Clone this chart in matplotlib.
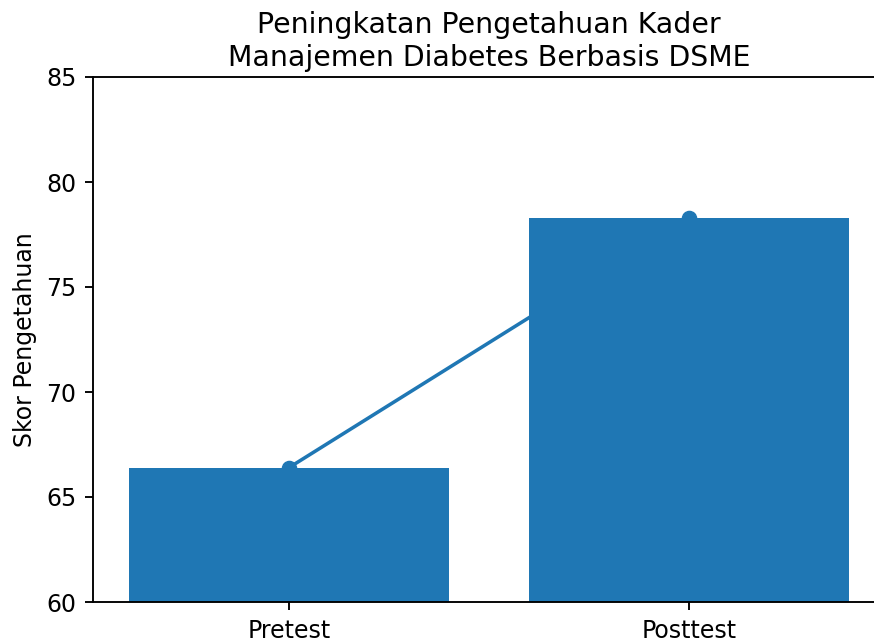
import matplotlib
matplotlib.use("Agg")
import matplotlib.pyplot as plt

labels = ["Pretest", "Posttest"]
scores = [66.4, 78.3]

S = 1.7  # scale of the reference relative to default sizes

fig = plt.figure(figsize=(8.74, 6.42), dpi=100)
ax = fig.add_axes([93 / 874, 40 / 642, 792 / 874, 525 / 642])

x = range(len(labels))
ax.plot(x, scores, marker="o", color="#1f77b4", linewidth=1.5 * S, markersize=6 * S, zorder=0.9)
ax.bar(x, scores, color="#1f77b4", width=0.8)

ax.set_ylim(60, 85)
ax.set_xticks(list(x))
ax.set_xticklabels(labels)
ax.set_ylabel("Skor Pengetahuan", fontsize=10 * S, labelpad=4 * S)
ax.set_title("Peningkatan Pengetahuan Kader\nManajemen Diabetes Berbasis DSME",
             fontsize=12 * S, pad=8)
ax.tick_params(labelsize=10 * S, length=3.5 * S, width=0.8 * S, pad=3.5 * S)
for sp in ax.spines.values():
    sp.set_linewidth(0.8 * S)

fig.savefig("out.png", dpi=100)
